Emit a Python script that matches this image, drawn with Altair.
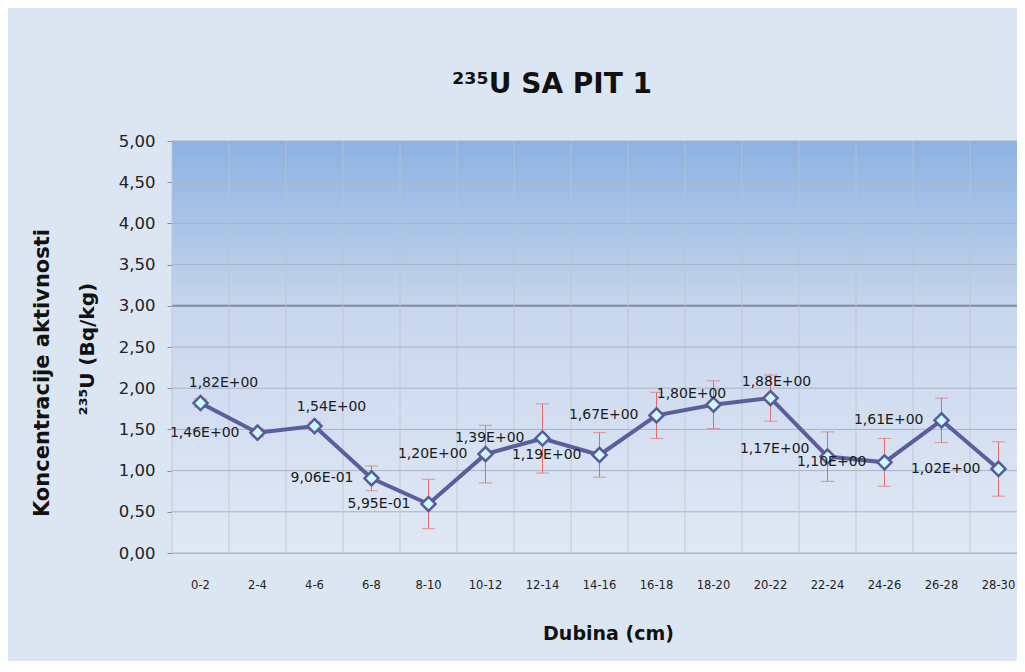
import altair as alt
import pandas as pd

# ---------------- data ----------------
categories = ["0-2", "2-4", "4-6", "6-8", "8-10", "10-12", "12-14", "14-16",
              "16-18", "18-20", "20-22", "22-24", "24-26", "26-28", "28-30"]
values = [1.82, 1.46, 1.54, 0.906, 0.595, 1.20, 1.39, 1.19,
          1.67, 1.80, 1.88, 1.17, 1.10, 1.61, 1.02]
errors = [0.05, 0.05, 0.05, 0.15, 0.30, 0.35, 0.42, 0.27,
          0.28, 0.29, 0.28, 0.30, 0.29, 0.27, 0.33]
y_ticks = [0.0, 0.5, 1.0, 1.5, 2.0, 2.5, 3.0, 3.5, 4.0, 4.5, 5.0]
labels = [f"{v:.2E}".replace(".", ",") for v in values]

title_text = "²³⁵U SA PIT 1"
y_title_1 = "Koncentracije aktivnosti"
y_title_2 = "²³⁵U (Bq/kg)"
x_title = "Dubina (cm)"

df = pd.DataFrame({"cat": categories, "val": values, "err": errors, "lab": labels})
df["lo"] = df["val"] - df["err"]
df["hi"] = df["val"] + df["err"]
grid_df = pd.DataFrame({"t": y_ticks})

# ---------------- layout ----------------
W, H = 845, 412
BAND_RANGE = 855
FONT = "DejaVu Sans"
# label placement per category: (align, dx, dy); others use the default
default_label = ("right", -18, 0)
label_offsets = {
    "0-2": ("center", 23, -20),
    "4-6": ("center", 17, -19),
    "18-20": ("center", -22, -11),
    "20-22": ("center", 6, -16),
    "22-24": ("right", -18, -8),
}

x_scale = alt.Scale(type="band", domain=categories, range=[0, BAND_RANGE],
                    paddingInner=0, paddingOuter=0)
y_scale = alt.Scale(domain=[0, 5], nice=False, zero=True)

x_axis = alt.Axis(title=x_title, labelAngle=0, ticks=False, grid=False,
                  labelFont=FONT, labelFontSize=11.5, labelColor="#222222",
                  labelPadding=26, domainColor="#b4bcc8",
                  titleFont=FONT, titleFontSize=19, titleFontWeight="bold",
                  titleColor="#111111", titleX=436, titleY=80, titleBaseline="middle")
y_axis = alt.Axis(title=None, values=y_ticks, grid=False,
                  labelExpr="replace(format(datum.value, '.2f'), '.', ',')",
                  labelFont=FONT, labelFontSize=16.5, labelColor="#222222",
                  labelPadding=12, tickSize=5, tickColor="#8c8c8c",
                  domainColor="#a0a0a0")

x_enc = alt.X("cat:N", scale=x_scale, sort=categories, axis=x_axis)

# background gradients of plot area
bg_top = alt.Chart(grid_df).mark_rect(
    color=alt.LinearGradient(gradient="linear", x1=0, x2=0, y1=0, y2=1,
                             stops=[alt.GradientStop(offset=0, color="#8db2e2"),
                                    alt.GradientStop(offset=1, color="#c5d5ec")])
).encode(x=alt.value(0), x2=alt.value(W),
         y=alt.YDatum(5, type="quantitative", scale=y_scale, axis=y_axis),
         y2=alt.Y2Datum(3))

bg_bot = alt.Chart(grid_df).mark_rect(
    color=alt.LinearGradient(gradient="linear", x1=0, x2=0, y1=0, y2=1,
                             stops=[alt.GradientStop(offset=0, color="#c8d7ee"),
                                    alt.GradientStop(offset=1, color="#e0e8f4")])
).encode(x=alt.value(0), x2=alt.value(W),
         y=alt.YDatum(3, type="quantitative", scale=y_scale, axis=y_axis),
         y2=alt.Y2Datum(0))

hgrid = alt.Chart(grid_df).mark_rule().encode(
    x=alt.value(0), x2=alt.value(W),
    y=alt.Y("t:Q", scale=y_scale, axis=y_axis),
    color=alt.condition(alt.datum.t == 3, alt.value("#7e8ca4"), alt.value("#a8b2c1")),
    strokeWidth=alt.condition(alt.datum.t == 3, alt.value(2), alt.value(1)),
)

vgrid = alt.Chart(df).mark_rule(color="#b9c3d1", strokeWidth=1, opacity=0.8).encode(
    x=alt.X("cat:N", scale=x_scale, sort=categories, axis=x_axis, bandPosition=0),
    y=alt.value(0), y2=alt.value(H),
)

err_rule = alt.Chart(df).mark_rule(color="#e56b6b", strokeWidth=1).encode(
    x=x_enc, y=alt.Y("lo:Q", scale=y_scale, axis=y_axis), y2="hi:Q")
cap_lo = alt.Chart(df).mark_tick(color="#e56b6b", size=13, thickness=1).encode(
    x=x_enc, y=alt.Y("lo:Q", scale=y_scale, axis=y_axis))
cap_hi = alt.Chart(df).mark_tick(color="#e56b6b", size=13, thickness=1).encode(
    x=x_enc, y=alt.Y("hi:Q", scale=y_scale, axis=y_axis))

line = alt.Chart(df).mark_line(color="#5a5e9c", strokeWidth=4).encode(
    x=x_enc, y=alt.Y("val:Q", scale=y_scale, axis=y_axis))

points = alt.Chart(df).mark_point(shape="diamond", filled=True, fill="#cdfaff",
                                  stroke="#575b99", strokeWidth=2.5, size=200,
                                  opacity=1).encode(
    x=x_enc, y=alt.Y("val:Q", scale=y_scale, axis=y_axis))

special_cats = list(label_offsets.keys())
al, dx0, dy0 = default_label
text_layers = [
    alt.Chart(df).transform_filter(
        {"not": {"field": "cat", "oneOf": special_cats}}
    ).mark_text(align=al, baseline="middle", dx=dx0, dy=dy0, font=FONT, fontSize=14,
                color="#1a1a1a").encode(
        x=x_enc, y=alt.Y("val:Q", scale=y_scale, axis=y_axis), text="lab:N")
]
for c, (al, dx, dy) in label_offsets.items():
    text_layers.append(
        alt.Chart(df).transform_filter(alt.datum.cat == c).mark_text(
            align=al, baseline="middle", dx=dx, dy=dy, font=FONT,
            fontSize=14, color="#1a1a1a").encode(
            x=x_enc, y=alt.Y("val:Q", scale=y_scale, axis=y_axis), text="lab:N"))

title = alt.Chart(pd.DataFrame({"t": [title_text]})).mark_text(
    font=FONT, fontSize=28, fontWeight="bold", color="#111111",
    align="center", baseline="middle").encode(
    text="t:N", x=alt.value(380), y=alt.value(-56))

ytitle1 = alt.Chart(pd.DataFrame({"t": [y_title_1]})).mark_text(
    font=FONT, fontSize=21, fontWeight="bold", color="#111111", angle=270,
    align="center", baseline="middle").encode(
    text="t:N", x=alt.value(-129), y=alt.value(232))

ytitle2 = alt.Chart(pd.DataFrame({"t": [y_title_2]})).mark_text(
    font=FONT, fontSize=20, fontWeight="bold", color="#111111", angle=270,
    align="center", baseline="middle").encode(
    text="t:N", x=alt.value(-84), y=alt.value(208))

chart = alt.layer(
    bg_top, bg_bot, hgrid, vgrid, err_rule, cap_lo, cap_hi, line, points,
    *text_layers, title, ytitle1, ytitle2
).properties(
    width=W, height=H,
    padding={"left": 164, "top": 133, "right": 0, "bottom": 108},
    autosize=alt.AutoSizeParams(type="none"),
    background="#dce6f2",
).configure_view(stroke=None)

chart.save("out.html", embed_options={"renderer": "svg", "actions": False})
